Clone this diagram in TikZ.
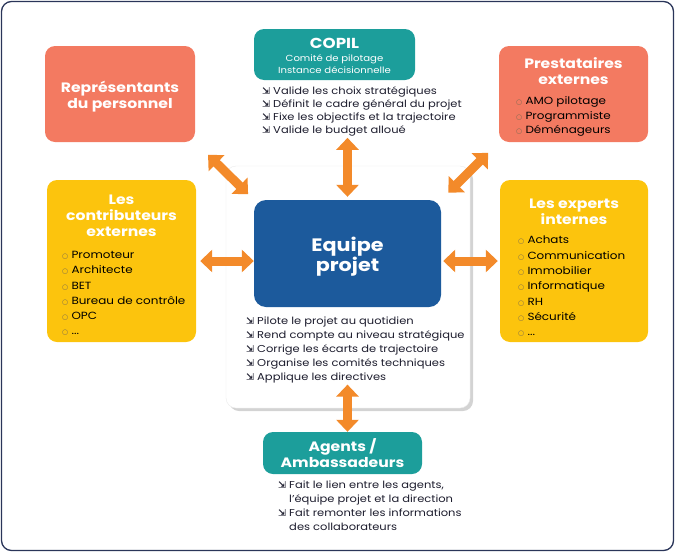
\documentclass[tikz,border=0pt]{standalone}
\usepackage{fontspec}
\setmainfont{Poppins}[FakeStretch=1.15]
\newfontfamily\symfont{DejaVu Sans}
\usetikzlibrary{arrows.meta,shadows}

\definecolor{salmon}{HTML}{F37A61}
\definecolor{tealbox}{HTML}{1C9E9B}
\definecolor{yellowbox}{HTML}{FCC40D}
\definecolor{bluebox}{HTML}{1C5A9C}
\definecolor{arrowcol}{HTML}{F38A2A}
\definecolor{textcol}{HTML}{1D1D2E}
\definecolor{framecol}{HTML}{2A3559}
\definecolor{bulcol}{HTML}{7A6A50}

\newcommand{\arr}{{\symfont\bfseries\fontsize{9.5}{9}\selectfont ⇲}\ }
\newcommand{\obul}{{\color{bulcol}\symfont\fontsize{7}{7}\selectfont ○}\ }

\tikzset{
  box/.style={rounded corners=10pt, inner sep=0pt},
  boxtitle/.style={text=white, font=\bfseries\fontsize{13.6}{16}\selectfont, align=center},
  boxlist/.style={text=black, font=\fontsize{10.4}{15.3}\selectfont, align=left, anchor=north west, inner sep=0pt},
  tasklist/.style={text=textcol, font=\fontsize{10}{14}\selectfont, align=left, anchor=north west, inner sep=0pt},
  dblarrow/.style={draw=arrowcol, line width=9pt,
    {Triangle[width=22pt,length=12pt]}-{Triangle[width=22pt,length=12pt]}},
}

\begin{document}
\begin{tikzpicture}[x=1pt,y=-1pt]
  \useasboundingbox (0,0) rectangle (675,552);
  % outer frame
  \draw[framecol, line width=1.3pt, rounded corners=10pt] (1.5,1.5) rectangle (673.5,550.5);

  % central panel
  \node[box, fill=white, draw=black!8, drop shadow={shadow xshift=3pt, shadow yshift=-3pt, opacity=0.35},
    minimum width=244pt, minimum height=242pt] (panel) at (348,287) {};

  % boxes
  \node[box, fill=salmon, minimum width=150pt, minimum height=96pt] (rep) at (120,94) {};
  \node[boxtitle] (reptitle) at (120,96.5) {Représentants\\du personnel};

  \node[box, fill=tealbox, minimum width=161pt, minimum height=51pt] (copil) at (334.5,54.5) {};
  \node[text=white, font=\bfseries\fontsize{14.5}{16}\selectfont] (copiltitle) at (334.5,43) {COPIL};
  \node[text=white, font=\fontsize{8.8}{12}\selectfont, align=center] (copilsub) at (334.5,64.5) {Comité de pilotage\\Instance décisionnelle};
  \node[tasklist, font=\fontsize{10}{13.3}\selectfont] (copillist) at (262,86) {\arr Valide les choix stratégiques\\
    \arr Définit le cadre général du projet\\
    \arr Fixe les objectifs et la trajectoire\\
    \arr Valide le budget alloué};

  \node[box, fill=salmon, minimum width=149pt, minimum height=96pt] (prest) at (573.5,94) {};
  \node[boxtitle] (presttitle) at (573.5,71.5) {Prestataires\\externes};
  \node[boxlist, font=\fontsize{10.4}{14.5}\selectfont] (prestlist) at (516,96.5) {\obul AMO pilotage\\
    \obul Programmiste\\
    \obul Déménageurs};

  \node[box, fill=yellowbox, minimum width=149pt, minimum height=162pt] (contrib) at (121.5,261) {};
  \node[boxtitle] (contribtitle) at (121.5,216) {Les\\contributeurs\\externes};
  \node[boxlist] (contriblist) at (62,251) {\obul Promoteur\\
    \obul Architecte\\
    \obul BET\\
    \obul Bureau de contrôle\\
    \obul OPC\\
    \obul ...};

  \node[box, fill=yellowbox, minimum width=148pt, minimum height=162pt] (experts) at (574,261) {};
  \node[boxtitle] (expertstitle) at (574,212) {Les experts\\internes};
  \node[boxlist] (expertslist) at (518,236) {\obul Achats\\
    \obul Communication\\
    \obul Immobilier\\
    \obul Informatique\\
    \obul RH\\
    \obul Sécurité\\
    \obul ...};

  \node[box, rounded corners=12pt, fill=bluebox, minimum width=187pt, minimum height=107pt] (equipe) at (347.5,253.5) {};
  \node[text=white, font=\bfseries\fontsize{18}{20}\selectfont, align=center] (equipetitle) at (347.5,257) {Equipe\\projet};
  \node[tasklist] (equipelist) at (246,317) {\arr Pilote le projet au quotidien\\
    \arr Rend compte au niveau stratégique\\
    \arr Corrige les écarts de trajectoire\\
    \arr Organise les comités techniques\\
    \arr Applique les directives};

  \node[box, fill=tealbox, minimum width=159pt, minimum height=42pt] (agents) at (342.5,453) {};
  \node[boxtitle] (agentstitle) at (agents.center) {Agents /\\Ambassadeurs};
  \node[tasklist] (agentslist) at (278,480.5) {\arr Fait le lien entre les agents,\\
    \phantom{\arr}l’équipe projet et la direction\\
    \arr Fait remonter les informations\\
    \phantom{\arr}des collaborateurs};

  % arrows
  \draw[dblarrow, shorten <=18pt, shorten >=8pt] (rep.south east) -- (equipe.north west);
  \draw[dblarrow, shorten <=15pt, shorten >=10pt] (prest.south west) -- (equipe.north east);
  \draw[dblarrow, shorten <=1pt, shorten >=3pt] (equipe.north |- copillist.south) -- (equipe.north);
  \draw[dblarrow, shorten <=4pt] (contrib.east) -- (contrib.east -| equipe.west);
  \draw[dblarrow, shorten <=2pt, shorten >=2pt] (experts.west -| equipe.east) -- (experts.west);
  \draw[dblarrow, shorten <=1pt] (equipe.south |- equipelist.south) -- (equipe.south |- agents.north);
\end{tikzpicture}
\end{document}
